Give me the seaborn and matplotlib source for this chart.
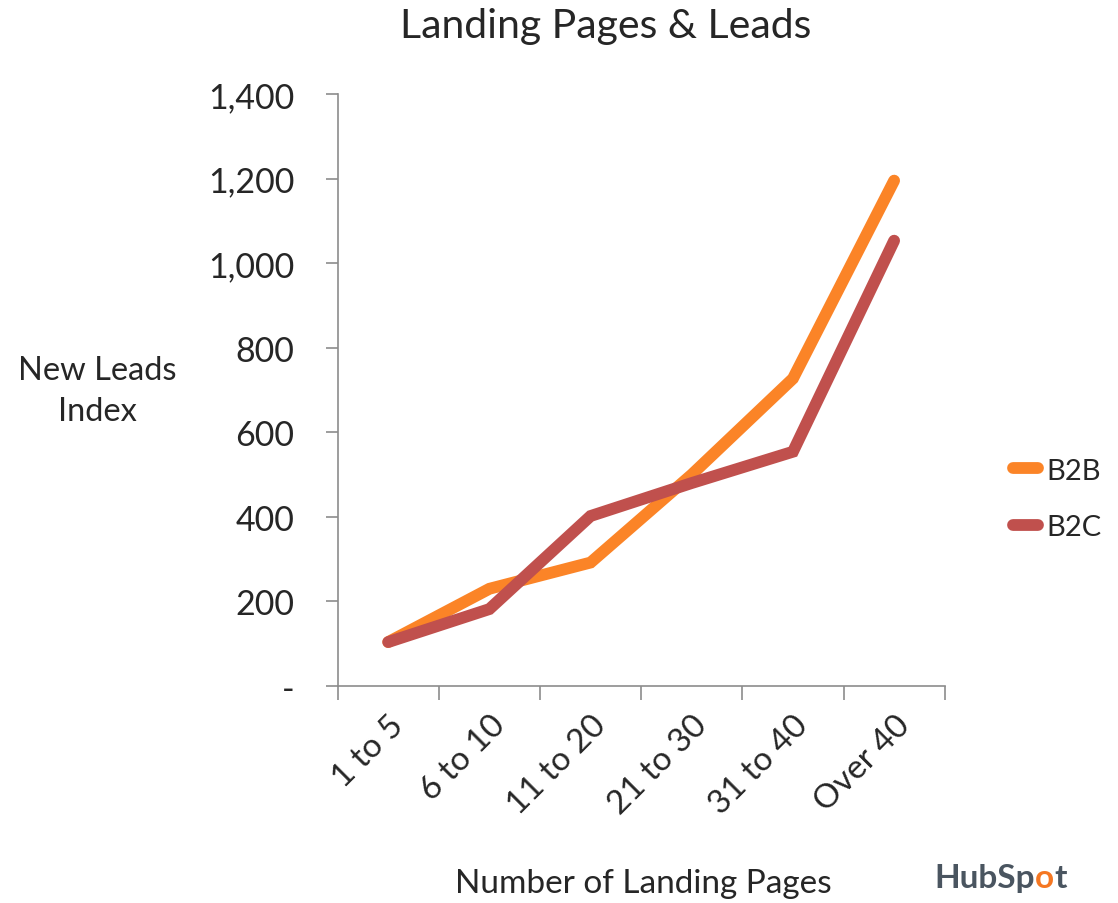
import numpy as np
import pandas as pd
import matplotlib
matplotlib.use("Agg")
import matplotlib.pyplot as plt
import seaborn as sns
from matplotlib.ticker import FixedLocator, FuncFormatter

# Chart data
categories = ["1 to 5", "6 to 10", "11 to 20", "21 to 30", "31 to 40", "Over 40"]
b2b = [104, 230, 292, 500, 727, 1195]
b2c = [104, 182, 402, 480, 554, 1053]
series_names = ["B2B", "B2C"]
colors = {"B2B": "#FB8427", "B2C": "#C0504D"}
y_ticks = [0, 200, 400, 600, 800, 1000, 1200, 1400]

df = pd.DataFrame({
    "pos": list(range(len(categories))) * 2,
    "value": b2b + b2c,
    "series": ["B2B"] * len(b2b) + ["B2C"] * len(b2c),
})

sns.set_style("white")
plt.rcParams["font.family"] = ["Lato", "DejaVu Sans"]

fig = plt.figure(figsize=(11.18, 9.04), dpi=100)
ax = fig.add_axes([0.302, 0.24, 0.543, 0.655])

sns.lineplot(data=df, x="pos", y="value", hue="series", hue_order=series_names,
             palette=colors, linewidth=8.5, ax=ax, legend=True,
             solid_capstyle="round", solid_joinstyle="miter")

ax.set_xlim(-0.5, len(categories) - 0.5)
ax.set_ylim(0, 1400)

# y axis
ax.yaxis.set_major_locator(FixedLocator(y_ticks))
ax.yaxis.set_major_formatter(FuncFormatter(lambda v, p: "-" if v == 0 else f"{int(v):,}"))
ax.tick_params(axis="y", direction="out", length=9, width=1.2, color="#8c8c8c",
               labelsize=24.5, pad=22, left=True)

# x axis: ticks at category boundaries, labels at centres
ax.xaxis.set_major_locator(FixedLocator(np.arange(-0.5, len(categories), 1.0)))
ax.xaxis.set_major_formatter(FuncFormatter(lambda v, p: ""))
ax.xaxis.set_minor_locator(FixedLocator(np.arange(len(categories))))
ax.set_xticklabels(categories, minor=True, rotation=45, ha="right", rotation_mode="anchor")
ax.tick_params(axis="x", which="major", direction="out", length=10, width=1.2,
               color="#8c8c8c", bottom=True)
ax.tick_params(axis="x", which="minor", length=0, labelsize=24, pad=17)

for side in ["top", "right"]:
    ax.spines[side].set_visible(False)
for side in ["left", "bottom"]:
    ax.spines[side].set_color("#8c8c8c")
    ax.spines[side].set_linewidth(1.2)

ax.set_xlabel("")
ax.set_ylabel("")

fig.text(0.542, 0.971, "Landing Pages & Leads", ha="center", va="center", fontsize=29.5)
fig.text(0.087, 0.567, "New Leads\nIndex", ha="center", va="center", fontsize=23.5,
         linespacing=1.45)
fig.text(0.575, 0.006, "Number of Landing Pages", ha="center", va="bottom", fontsize=24)

# HubSpot mark as text, with the orange "o"
renderer = fig.canvas.get_renderer()
x0 = 0.836
for part, col in [("HubSp", "#4a5560"), ("o", "#F57722"), ("t", "#4a5560")]:
    t = fig.text(x0, 0.012, part, ha="left", va="bottom", fontsize=24,
                 fontweight="bold", color=col)
    bb = t.get_window_extent(renderer=renderer)
    x0 += bb.width / fig.bbox.width

leg = ax.legend(loc="center left", bbox_to_anchor=(0.906, 0.447),
                bbox_transform=fig.transFigure, frameon=False, borderpad=0,
                borderaxespad=0, fontsize=21, handlelength=0.85,
                handletextpad=0.3, labelspacing=1.05)
for h in leg.get_lines():
    h.set_linewidth(8.5)
    h.set_solid_capstyle("round")

fig.savefig("out.png", dpi=100)
